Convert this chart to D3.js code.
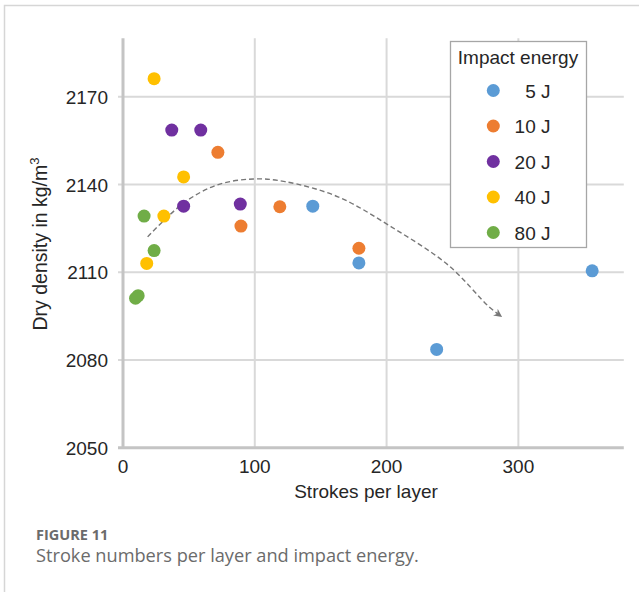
<!DOCTYPE html>
<html>
<head>
<meta charset="utf-8">
<script src="https://cdn.jsdelivr.net/npm/d3@7"></script>
<style>
    body { margin: 0; background: #fff; }
    svg text { font-family: 'Liberation Sans', Arial, sans-serif; fill: #262626; }
    .caption { font-family: 'Open Sans', 'Noto Sans', sans-serif !important; fill: #6b6b6b !important; }
</style>
</head>
<body>
<div id="chart"></div>
<script>
// energy classes and their colours
const energies = ['5 J', '10 J', '20 J', '40 J', '80 J'];
const colors = ['#5B9BD5', '#ED7D31', '#7030A0', '#FFC000', '#70AD47'];

// strokes per layer / dry density, one pair of arrays per energy
const strokes5 = [144, 179, 238, 356];
const density5 = [2132.6, 2113.2, 2083.6, 2110.5];
const strokes10 = [72, 89.5, 119, 179];
const density10 = [2151, 2125.8, 2132.4, 2118.2];
const strokes20 = [37, 59, 46, 89];
const density20 = [2158.6, 2158.6, 2132.6, 2133.3];
const strokes40 = [23.6, 46, 31, 18];
const density40 = [2176.2, 2142.6, 2129.2, 2113];
const strokes80 = [16, 23.6, 11.5, 9.5];
const density80 = [2129.2, 2117.4, 2102, 2101.1];

// trend arrow drawn over the points (data units)
const trendX = [18.7, 45.8, 71.1, 98.9, 122.9, 163.1, 203.3, 246.6, 277.7, 286.6];
const trendY = [2122.1, 2133.6, 2139.8, 2141.9, 2141, 2135.8, 2125.6, 2112.5, 2098.2, 2095];

const xTicks = [0, 100, 200, 300];
const yTicks = [2050, 2080, 2110, 2140, 2170];

const width = 639;
const height = 592;

const allStrokes = [strokes5, strokes10, strokes20, strokes40, strokes80];
const allDensity = [density5, density10, density20, density40, density80];

const points = [];
allStrokes.forEach((xs, s) => xs.forEach((x, i) => points.push({ x: x, y: allDensity[s][i], s: s })));

const svg = d3.select('#chart').append('svg')
    .attr('width', width)
    .attr('height', height);

// outer figure frame
svg.append('path')
    .attr('d', `M4.5,${height} V5.5 H${width}`)
    .attr('fill', 'none')
    .attr('stroke', '#d6d6d6')
    .attr('stroke-width', 1.5);

const x = d3.scaleLinear().domain([0, 380]).range([123, 623.8]);
const y = d3.scaleLinear().domain([2050, 2190]).range([447.7, 38.3]);

// grid
svg.append('g')
    .selectAll('line')
    .data(xTicks.slice(1))
    .join('line')
    .attr('x1', d => x(d)).attr('x2', d => x(d))
    .attr('y1', y(2190)).attr('y2', y(2050))
    .attr('stroke', '#d9d9d9')
    .attr('stroke-width', 2);

svg.append('g')
    .selectAll('line')
    .data(yTicks.slice(1))
    .join('line')
    .attr('x1', x(0) - 5).attr('x2', x(380))
    .attr('y1', d => y(d)).attr('y2', d => y(d))
    .attr('stroke', '#d9d9d9')
    .attr('stroke-width', 2);

// axis lines
svg.append('line')
    .attr('x1', x(0)).attr('x2', x(0))
    .attr('y1', y(2190)).attr('y2', y(2050))
    .attr('stroke', '#c4c4c4')
    .attr('stroke-width', 3);

svg.append('line')
    .attr('x1', x(0) - 5).attr('x2', x(380))
    .attr('y1', y(2050)).attr('y2', y(2050))
    .attr('stroke', '#c4c4c4')
    .attr('stroke-width', 3);

// tick labels
svg.append('g')
    .selectAll('text')
    .data(yTicks)
    .join('text')
    .attr('x', 108)
    .attr('y', d => y(d) + 7)
    .attr('text-anchor', 'end')
    .style('font-size', '19px')
    .text(d => d);

svg.append('g')
    .selectAll('text')
    .data(xTicks)
    .join('text')
    .attr('x', d => x(d))
    .attr('y', 473)
    .attr('text-anchor', 'middle')
    .style('font-size', '19px')
    .text(d => d);

// axis titles
svg.append('text')
    .attr('x', 366)
    .attr('y', 498)
    .attr('text-anchor', 'middle')
    .style('font-size', '19px')
    .text('Strokes per layer');

const yTitle = svg.append('text')
    .attr('transform', 'translate(47,244) rotate(-90)')
    .attr('text-anchor', 'middle')
    .style('font-size', '19.5px');
yTitle.append('tspan').text('Dry density in kg/m');
yTitle.append('tspan').attr('dy', -8).style('font-size', '13px').text('3');

// trend arrow
svg.append('defs').append('marker')
    .attr('id', 'head')
    .attr('viewBox', '0 0 10 10')
    .attr('refX', 8).attr('refY', 5)
    .attr('markerWidth', 6).attr('markerHeight', 6)
    .attr('orient', 'auto')
    .append('path')
    .attr('d', 'M0,0 L10,5 L0,10 L3,5 Z')
    .attr('fill', '#777');

const trendLine = d3.line()
    .x(d => x(d[0]))
    .y(d => y(d[1]))
    .curve(d3.curveCatmullRom);

svg.append('path')
    .attr('d', trendLine(trendX.map((v, i) => [v, trendY[i]])))
    .attr('fill', 'none')
    .attr('stroke', '#777')
    .attr('stroke-width', 1.4)
    .attr('stroke-dasharray', '5,3')
    .attr('marker-end', 'url(#head)');

// points
svg.append('g')
    .selectAll('circle')
    .data(points)
    .join('circle')
    .attr('cx', d => x(d.x))
    .attr('cy', d => y(d.y))
    .attr('r', 6.5)
    .attr('fill', d => colors[d.s]);

// legend
const legend = svg.append('g');

legend.append('rect')
    .attr('x', 450.5).attr('y', 41.5)
    .attr('width', 136).attr('height', 206)
    .attr('fill', '#fff')
    .attr('stroke', '#a6a6a6')
    .attr('stroke-width', 1.3);

legend.append('text')
    .attr('x', 518)
    .attr('y', 63.5)
    .attr('text-anchor', 'middle')
    .style('font-size', '19px')
    .text('Impact energy');

const legendItem = legend.selectAll('g.item')
    .data(energies)
    .join('g')
    .attr('class', 'item')
    .attr('transform', (d, i) => `translate(0, ${90.5 + i * 35.5})`);

legendItem.append('circle')
    .attr('cx', 493.3)
    .attr('r', 6.5)
    .attr('fill', (d, i) => colors[i]);

legendItem.append('text')
    .attr('x', 550.5)
    .attr('y', 7)
    .attr('text-anchor', 'end')
    .style('font-size', '19px')
    .text(d => d);

// caption
svg.append('text')
    .attr('class', 'caption')
    .attr('x', 36)
    .attr('y', 540)
    .style('font-size', '14.5px')
    .style('font-weight', 700)
    .text('FIGURE 11');

svg.append('text')
    .attr('class', 'caption')
    .attr('x', 36)
    .attr('y', 562)
    .style('font-size', '18.2px')
    .text('Stroke numbers per layer and impact energy.');
</script>
</body>
</html>
